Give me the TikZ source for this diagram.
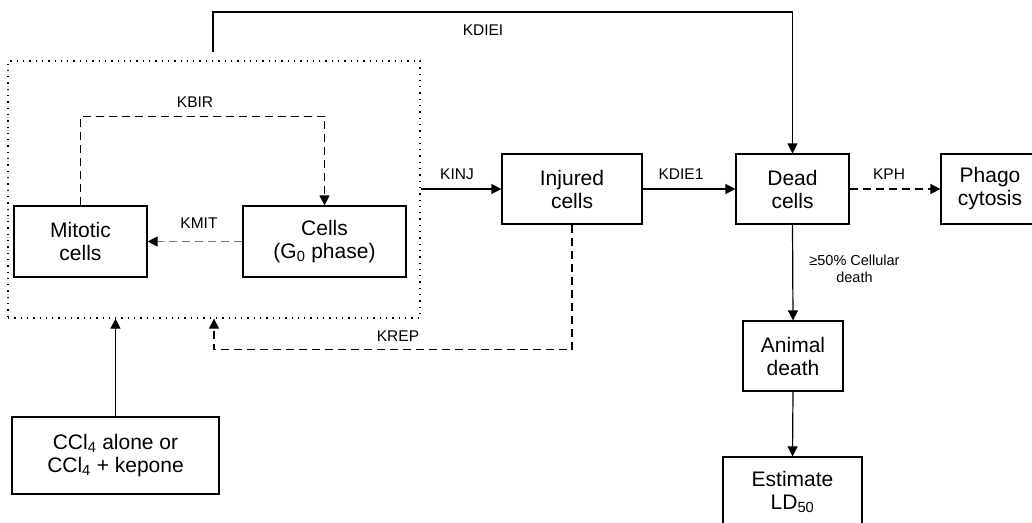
\documentclass[tikz,border=0pt]{standalone}
\usepackage{fontspec}
\setmainfont{Liberation Sans}
\usetikzlibrary{arrows.meta,calc}
\begin{document}
\begin{tikzpicture}[x=1pt,y=1pt,
  box/.style={draw,line width=1.2pt,align=center,inner sep=0pt,font=\fontsize{21}{23}\selectfont},
  lbl/.style={font=\fontsize{15.5}{17}\selectfont,inner sep=0pt},
  conn/.style={line width=1.2pt,-{Triangle[length=10pt,width=10pt]}},
  dsh/.style={dash pattern=on 8pt off 5pt},
  frame/.style={draw,line width=1.3pt,dash pattern=on 1.3pt off 5pt}]
\useasboundingbox (0,0) rectangle (1032,-522);
\node[frame,minimum width=412pt,minimum height=257pt] (frame) at (214,-189.5) {};
\node[box,minimum width=133pt,minimum height=71pt] (mit) at (80.5,-241.5) {Mitotic\\cells};
\node[box,minimum width=163pt,minimum height=71pt] (g0) at (324.5,-241.5) {Cells\\(G\textsubscript{0} phase)};
\node[box,minimum width=140pt,minimum height=70pt] (inj) at (572,-189) {Injured\\cells};
\node[box,minimum width=113pt,minimum height=70pt] (dead) at (792.5,-189) {Dead\\cells};
\node[box,minimum width=98pt,minimum height=70pt] (phago) at (990,-189) {Phago\\cytosis};
\node[box,minimum width=100pt,minimum height=70pt] (animal) at (793,-356) {Animal\\death};
\node[box,minimum width=139pt,minimum height=70pt] (est) at (792.5,-492) {Estimate\\LD\textsubscript{50}};
\node[box,minimum width=207pt,minimum height=77pt] (ccl) at (115.5,-455.5) {CCl\textsubscript{4} alone or\\CCl\textsubscript{4} + kepone};
\coordinate (ks) at (213,-52);
% connectors
\draw[conn] (ks) -- ++(0,40) -| (dead.north);
\draw[conn] (frame.east |- inj.west) -- (inj.west);
\draw[conn] (inj.east) -- (dead.west);
\draw[conn,dsh] (dead.east) -- (phago.west);
\draw[conn] (dead.south) -- (animal.north);
\draw[conn] (animal.south) -- (est.north);
\draw[conn,dsh] (mit.north) -- ++(0,89) -| (g0.north);
\draw[line width=1.2pt,dsh,draw=black!55,-{Triangle[length=10pt,width=10pt,color=black]}] (g0.west) -- (mit.east);
\draw[conn,dsh] (inj.south) -- ++(0,-125) -| (frame.south);
\draw[conn] (ccl.north) -- (ccl.north |- frame.south);
% labels
\node[lbl] (lkdiei) at (483,-30) {KDIEI};
\node[lbl] (lkbir) at (195,-102) {KBIR};
\node[lbl] (lkmit) at (199,-223) {KMIT};
\node[lbl] (lkinj) at (457,-174) {KINJ};
\node[lbl] (lkdie) at (681,-174) {KDIE1};
\node[lbl] (lkph) at (889,-174) {KPH};
\node[lbl,font=\fontsize{14.5}{17}\selectfont,align=center] (lcell) at (854.5,-268.5) {≥50\% Cellular\\death};
\node[lbl] (lkrep) at (398,-336) {KREP};
\end{tikzpicture}
\end{document}
